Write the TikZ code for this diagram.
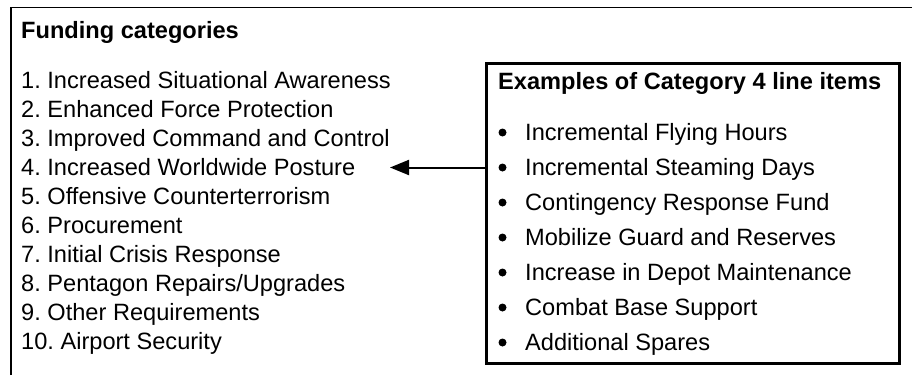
\documentclass[tikz,border=0pt]{standalone}
\usepackage{fontspec}
\setmainfont{Liberation Sans}
\usetikzlibrary{arrows.meta}
\frenchspacing
\begin{document}
\begin{tikzpicture}[x=1pt,y=-1pt,
  txt/.style={anchor=base west,inner sep=0pt,font=\fontsize{23.6}{28}\selectfont\frenchspacing},
  ttl/.style={txt,font=\fontsize{23.6}{28}\selectfont\bfseries},
  bul/.style={circle,fill=black,inner sep=0pt,minimum size=8pt},
  exbox/.style={draw,line width=2.7pt,inner sep=0pt,anchor=north west},
  conn/.style={line width=2pt,-{Triangle[length=19pt,width=15pt]}}]
\useasboundingbox (0,0) rectangle (912,375);
\fill[white] (0,0) rectangle (912,375);
% outer frame (top and left only)
\draw[line width=1.4pt] (11,375) -- (11,7.5) -- (912,7.5);
% left list
\node[ttl] (ftitle) at (21,38.5) {Funding categories};
\node[txt] (c1) at (21,88.5) {1. Increased Situational Awareness};
\node[txt] (c2) at (21,117.5) {2. Enhanced Force Protection};
\node[txt] (c3) at (21,146.5) {3. Improved Command and Control};
\node[txt] (c4) at (21,175.5) {4. Increased Worldwide Posture};
\node[txt] (c5) at (21,204.5) {5. Offensive Counterterrorism};
\node[txt] (c6) at (21,233.5) {6. Procurement};
\node[txt] (c7) at (21,262.5) {7. Initial Crisis Response};
\node[txt] (c8) at (21,291.5) {8. Pentagon Repairs/Upgrades};
\node[txt] (c9) at (21,320.5) {9. Other Requirements};
\node[txt] (c10) at (21,349.5) {10. Airport Security};
% right box
\node[exbox,minimum width=413pt,minimum height=300pt] (box) at (485,62) {};
\node[ttl] (etitle) at (498,89.5) {Examples of Category 4 line items};
\node[bul] (b1) at (502.5,132.5) {};
\node[bul] (b2) at (502.5,167.5) {};
\node[bul] (b3) at (502.5,202.5) {};
\node[bul] (b4) at (502.5,237.5) {};
\node[bul] (b5) at (502.5,272.5) {};
\node[bul] (b6) at (502.5,307.5) {};
\node[bul] (b7) at (502.5,342.5) {};
\node[txt] (e1) at (525,140.5) {Incremental Flying Hours};
\node[txt] (e2) at (525,175.5) {Incremental Steaming Days};
\node[txt] (e3) at (525,210.5) {Contingency Response Fund};
\node[txt] (e4) at (525,245.5) {Mobilize Guard and Reserves};
\node[txt] (e5) at (525,280.5) {Increase in Depot Maintenance};
\node[txt] (e6) at (525,315.5) {Combat Base Support};
\node[txt] (e7) at (525,350.5) {Additional Spares};
% arrow
\coordinate (tip) at (390,167.5);
\draw[conn] (box.west |- tip) -- (tip);
\end{tikzpicture}
\end{document}
